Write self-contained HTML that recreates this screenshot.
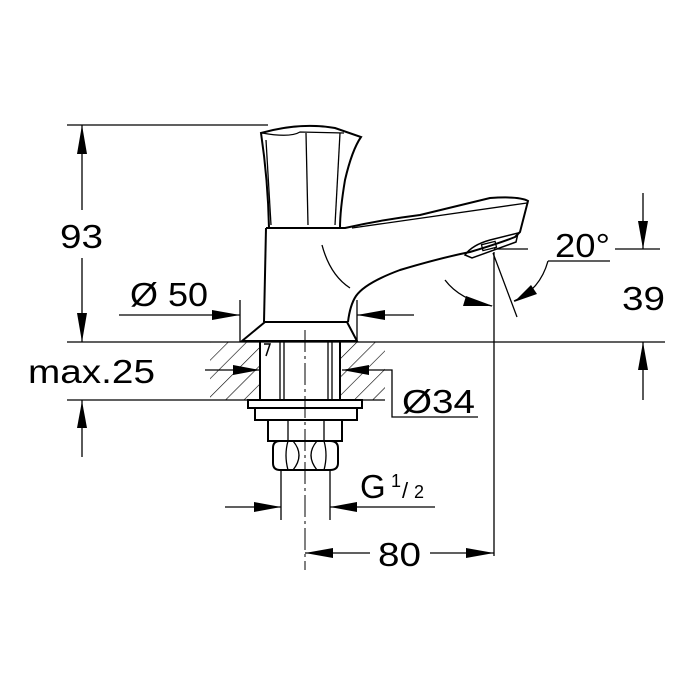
<!DOCTYPE html>
<html><head><style>
html,body{margin:0;padding:0;background:#fff;}
svg{display:block;}
text{font-family:"Liberation Sans",Arial,sans-serif;fill:#000;}
</style></head><body>
<svg width="700" height="700" viewBox="0 0 700 700" xmlns="http://www.w3.org/2000/svg">
<defs>
<pattern id="h" patternUnits="userSpaceOnUse" width="13" height="13" patternTransform="rotate(45)">
<line x1="0" y1="0" x2="0" y2="13" stroke="#000" stroke-width="1.2"/>
</pattern>
</defs>
<g stroke="#000" fill="none" stroke-width="1.3">
<line x1="67" y1="125" x2="268" y2="125"/>
<line x1="67" y1="342" x2="665" y2="342"/>
<line x1="67" y1="400" x2="385" y2="400"/>
<line x1="82" y1="125" x2="82" y2="210"/>
<line x1="82" y1="258" x2="82" y2="342"/>
<line x1="82" y1="400" x2="82" y2="457"/>
<line x1="119" y1="315" x2="240" y2="315"/>
<line x1="240" y1="300" x2="240" y2="342"/>
<line x1="357" y1="300" x2="357" y2="342"/>
<line x1="357" y1="315" x2="414" y2="315"/>
<rect x="210" y="342" width="50" height="58" fill="url(#h)" stroke="none"/>
<rect x="340" y="342" width="45" height="58" fill="url(#h)" stroke="none"/>
<line x1="205" y1="370" x2="260" y2="370"/>
<polyline points="342,370 392,370 392,417 478,417"/>
<line x1="305" y1="330" x2="305" y2="570" stroke-dasharray="22,4,3,4" stroke-width="1"/>
<line x1="494" y1="252" x2="494" y2="556"/>
<line x1="305" y1="553" x2="370" y2="553"/>
<line x1="430" y1="553" x2="494" y2="553"/>
<line x1="225" y1="507" x2="281" y2="507"/>
<line x1="281" y1="470" x2="281" y2="520"/>
<line x1="330" y1="470" x2="330" y2="520"/>
<line x1="330" y1="507" x2="435" y2="507"/>
<line x1="643" y1="193" x2="643" y2="249"/>
<line x1="615" y1="249" x2="660" y2="249"/>
<line x1="643" y1="342" x2="643" y2="400"/>
<line x1="494" y1="249" x2="528" y2="249"/>
<line x1="548" y1="261" x2="610" y2="261"/>
<line x1="493" y1="253" x2="517" y2="317"/>
<path d="M548,261 Q540,290 514,301"/>
<path d="M445,280 Q460,300 492,306"/>
<!-- handle -->
<path d="M261,133 Q300,122 335,128 L361,137 Q352,150 345,180 Q340,210 340,228 L269,228 Q268,180 261,133 Z" stroke-width="2"/>
<path d="M266,140 L271,225"/>
<path d="M306,133 L308,225"/>
<path d="M340,133 L335,225"/>
<path d="M262,133 Q290,138 300,132 L344,133"/>
<!-- body -->
<path d="M266,228 L345,228 Q380,220 420,215 L490,198 Q520,196 528,201 L520,232 L515,237 Q500,243 470,252 Q440,258 400,270 Q365,283 356,296 Q350,305 348,322" stroke-width="2"/>
<path d="M266,228 L264,322" stroke-width="2"/>
<path d="M352,228 L527,203"/>
<path d="M322,245 Q330,275 350,288"/>
<path d="M465,255 Q472,245 490,240 L518,233 L516,242 L472,258 Z" stroke-width="1.5"/>
<rect x="482" y="243" width="14" height="6" transform="rotate(-14 489 246)"/>
<path d="M265,322 L347,322 L357,341 L242,341 Z" stroke-width="2"/>
<line x1="260" y1="342" x2="260" y2="400" stroke-width="2"/>
<line x1="340" y1="342" x2="340" y2="400" stroke-width="2"/>
<line x1="280" y1="342" x2="280" y2="400"/>
<line x1="284" y1="342" x2="284" y2="400"/>
<line x1="328" y1="342" x2="328" y2="400"/>
<line x1="332" y1="342" x2="332" y2="400"/>
<path d="M264,344 L270,344 L266,356" stroke-width="1.5"/>
<rect x="248" y="400" width="114" height="8" stroke-width="2"/>
<rect x="255" y="408" width="102" height="12" stroke-width="2"/>
<rect x="268" y="420" width="74" height="21" stroke-width="2"/>
<line x1="288" y1="420" x2="288" y2="441"/>
<line x1="324" y1="420" x2="324" y2="441"/>
<path d="M280,441 L330,441 Q338,441 338,448 L338,463 Q338,470 330,470 L280,470 Q273,470 273,463 L273,448 Q273,441 280,441 Z" stroke-width="2"/>
<path d="M288,441 Q284,455 288,470 M324,441 Q328,455 324,470"/>
<path d="M293,441 Q305,455 293,470 M317,441 Q305,455 317,470"/>
</g>
<g fill="#000">
<polygon points="82,125 77,154 87,154"/>
<polygon points="82,342 77,313 87,313"/>
<polygon points="82,401 77,428 87,428"/>
<polygon points="240,315 212,310 212,320"/>
<polygon points="357,315 385,310 385,320"/>
<polygon points="260,370 233,365 233,375"/>
<polygon points="342,370 369,365 369,375"/>
<polygon points="305,553 333,548 333,558"/>
<polygon points="494,553 466,548 466,558"/>
<polygon points="281,507 254,502 254,512"/>
<polygon points="330,507 357,502 357,512"/>
<polygon points="643,249 638,221 648,221"/>
<polygon points="643,342 638,370 648,370"/>
<polygon points="514,302 531,285 537,294"/>
<polygon points="493,306 466,296 463,306"/>
</g>
<text x="60" y="248" font-size="33" textLength="43" lengthAdjust="spacingAndGlyphs">93</text>
<text x="130" y="306" font-size="33" textLength="78" lengthAdjust="spacingAndGlyphs">Ø 50</text>
<text x="28" y="383" font-size="33" textLength="127" lengthAdjust="spacingAndGlyphs">max.25</text>
<text x="402" y="413" font-size="33" textLength="73" lengthAdjust="spacingAndGlyphs">Ø34</text>
<text x="360" y="498" font-size="33">G</text>
<text x="391" y="487" font-size="18">1</text>
<text x="402" y="498" font-size="22">/</text>
<text x="414" y="498" font-size="18">2</text>
<text x="378" y="566" font-size="33" textLength="43" lengthAdjust="spacingAndGlyphs">80</text>
<text x="555" y="257" font-size="33" textLength="55" lengthAdjust="spacingAndGlyphs">20°</text>
<text x="622" y="310" font-size="33" textLength="43" lengthAdjust="spacingAndGlyphs">39</text>
</svg>
</body></html>
